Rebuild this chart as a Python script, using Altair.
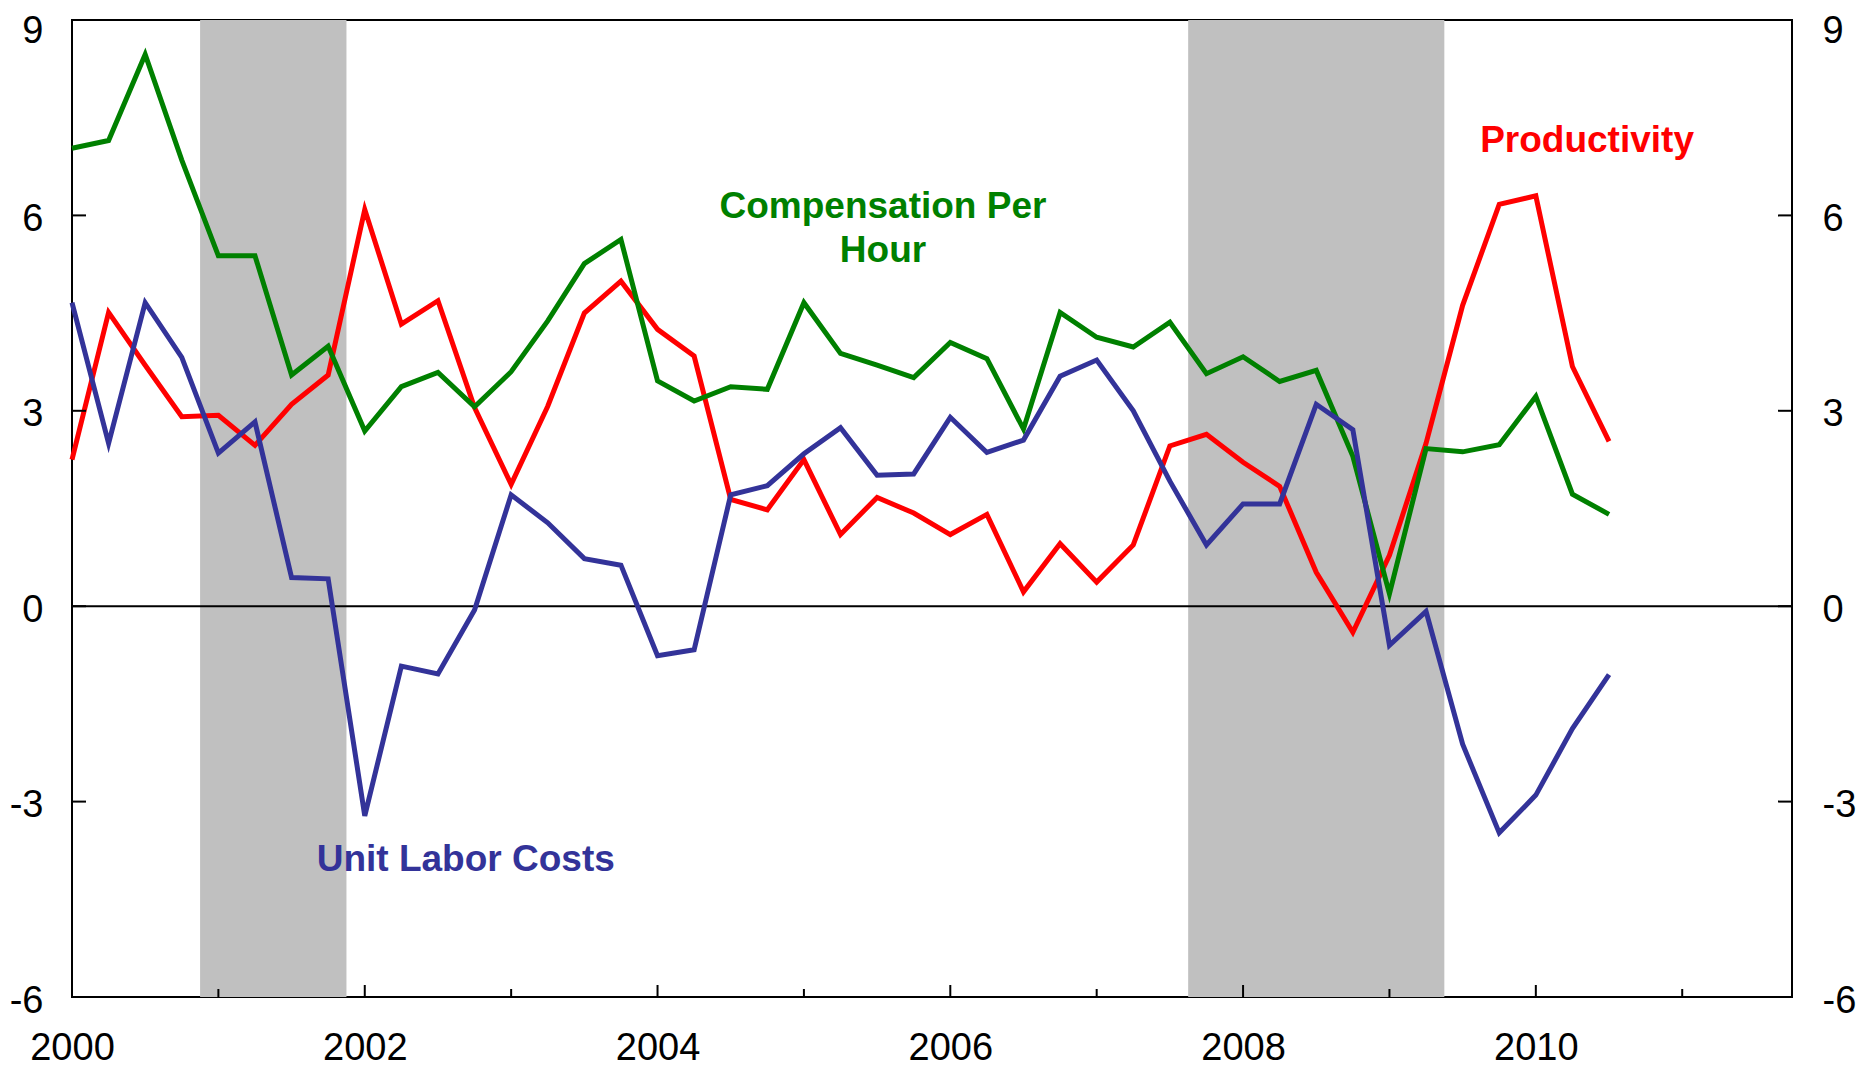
import altair as alt
import pandas as pd

# Quarterly data, 2000Q1 .. 2010Q3
quarter_labels = [f"{y}Q{q}" for y in range(2000, 2011) for q in range(1, 5)][:43]
productivity = [2.25, 4.51, 3.70, 2.91, 2.93, 2.47, 3.10, 3.55, 6.09, 4.33, 4.69, 3.05,
                1.87, 3.07, 4.50, 4.99, 4.25, 3.84, 1.64, 1.48, 2.25, 1.10, 1.67, 1.43,
                1.10, 1.41, 0.22, 0.96, 0.37, 0.94, 2.46, 2.64, 2.21, 1.84, 0.52, -0.40,
                0.78, 2.50, 4.62, 6.17, 6.30, 3.68, 2.53]
compensation = [7.03, 7.15, 8.47, 6.85, 5.38, 5.38, 3.55, 3.99, 2.69, 3.37, 3.59, 3.06,
                 3.60, 4.38, 5.26, 5.63, 3.46, 3.15, 3.37, 3.33, 4.66, 3.88, 3.70, 3.51,
                 4.05, 3.80, 2.72, 4.51, 4.13, 3.98, 4.36, 3.57, 3.83, 3.45, 3.62, 2.30,
                 0.19, 2.42, 2.37, 2.48, 3.22, 1.72, 1.41]
ulc = [4.66, 2.50, 4.66, 3.82, 2.35, 2.83, 0.44, 0.42, -3.22, -0.92, -1.04, -0.06,
       1.71, 1.28, 0.73, 0.63, -0.76, -0.67, 1.71, 1.85, 2.34, 2.74, 2.01, 2.03,
       2.90, 2.36, 2.55, 3.53, 3.78, 3.00, 1.92, 0.94, 1.57, 1.57, 3.10, 2.71,
       -0.60, -0.08, -2.12, -3.48, -2.90, -1.88, -1.05]

recession_start = [2000.875, 2007.625]
recession_end = [2001.875, 2009.375]

series_names = ["Productivity", "Compensation", "ULC"]
series_colors = ["#FF0000", "#008000", "#333399"]

label_text = ["Compensation Per", "Hour", "Productivity", "Unit Labor Costs"]
label_series = ["Compensation", "Compensation", "Productivity", "ULC"]
label_x = [2005.54, 2005.54, 2010.35, 2002.69]
label_y = [6.13, 5.46, 7.14, -3.90]

y_ticks = [-6, -3, 0, 3, 6, 9]
x_label_years = [2000, 2002, 2004, 2006, 2008, 2010]
major_tick_years = [2002, 2004, 2006, 2008, 2010]
minor_tick_years = [2001, 2003, 2005, 2007, 2009, 2011]

def qpos(label):
    return int(label[:4]) + (int(label[-1]) - 1) * 0.25

t = [qpos(q) for q in quarter_labels]
rows = []
for name, vals in zip(series_names, [productivity, compensation, ulc]):
    for tt, v in zip(t, vals):
        rows.append({"t": tt, "v": v, "series": name})
lines_df = pd.DataFrame(rows)

W, H = 1720, 977
FONT = "Liberation Sans"
LBL = "'' + datum.value"
Y_OFFSET = {"condition": {"test": "datum.value == 9", "value": 11}, "value": 4}

xscale = alt.Scale(domain=[2000, 2011.75], nice=False, zero=False)
yscale = alt.Scale(domain=[-6, 9], nice=False, zero=False)
cscale = alt.Scale(domain=series_names, range=series_colors)

shade = alt.Chart(pd.DataFrame({"s": recession_start, "e": recession_end})).mark_rect(
    color="#C0C0C0"
).encode(
    x=alt.X("s:Q", scale=xscale, axis=None),
    x2="e:Q",
)

zero = alt.Chart(pd.DataFrame({"y": [0]})).mark_rule(color="black", strokeWidth=2).encode(
    y=alt.Y("y:Q", scale=yscale,
            axis=alt.Axis(orient="right", values=y_ticks, tickSize=0, domain=False, grid=False,
                          labelFontSize=38, labelFont=FONT, labelColor="black",
                          labelPadding=30, labelOffset=Y_OFFSET, title=None, labelAlign="left",
                          labelExpr=LBL)),
)

lines = alt.Chart(lines_df).mark_line(strokeWidth=5, strokeJoin="miter").encode(
    x=alt.X("t:Q", scale=xscale,
            axis=alt.Axis(values=x_label_years, tickSize=0, domain=False, grid=False,
                          labelFontSize=38, labelFont=FONT, labelColor="black",
                          labelPadding=32, labelFlush=False, title=None, labelExpr=LBL)),
    y=alt.Y("v:Q", scale=yscale,
            axis=alt.Axis(orient="left", values=y_ticks, tickSize=0, domain=False, grid=False,
                          labelFontSize=38, labelFont=FONT, labelColor="black",
                          labelPadding=29, labelOffset=Y_OFFSET, title=None, labelExpr=LBL)),
    color=alt.Color("series:N", scale=cscale, legend=None),
    detail="series:N",
)

labels = alt.Chart(pd.DataFrame({"x": label_x, "y": label_y, "text": label_text,
                                 "series": label_series})).mark_text(
    font=FONT, fontSize=37, fontWeight="bold", align="center", baseline="middle"
).encode(
    x=alt.X("x:Q", scale=xscale, axis=None),
    y=alt.Y("y:Q", scale=yscale, axis=None),
    text="text:N",
    color=alt.Color("series:N", scale=cscale, legend=None),
)

yt = pd.DataFrame({"v": y_ticks})
left_ticks = alt.Chart(yt).mark_rule(color="black", strokeWidth=2).encode(
    y=alt.Y("v:Q", scale=yscale, axis=None), x=alt.value(0), x2=alt.value(14))
right_ticks = alt.Chart(yt).mark_rule(color="black", strokeWidth=2).encode(
    y=alt.Y("v:Q", scale=yscale, axis=None), x=alt.value(W), x2=alt.value(W - 14))
maj_ticks = alt.Chart(pd.DataFrame({"v": major_tick_years})).mark_rule(color="black", strokeWidth=2).encode(
    x=alt.X("v:Q", scale=xscale, axis=None), y=alt.value(H), y2=alt.value(H - 12))
min_ticks = alt.Chart(pd.DataFrame({"v": minor_tick_years})).mark_rule(color="black", strokeWidth=2).encode(
    x=alt.X("v:Q", scale=xscale, axis=None), y=alt.value(H), y2=alt.value(H - 8))

chart = alt.layer(shade, zero, lines, labels, left_ticks, right_ticks, maj_ticks, min_ticks).resolve_axis(
    y="independent", x="independent"
).properties(
    width=W, height=H,
    autosize=alt.AutoSizeParams(type="none"),
    padding={"left": 64, "top": 12, "right": 65, "bottom": 71},
    background="white",
).configure_view(stroke="black", strokeWidth=2)

chart.save("out.html", embed_options={"renderer": "svg", "actions": False})
